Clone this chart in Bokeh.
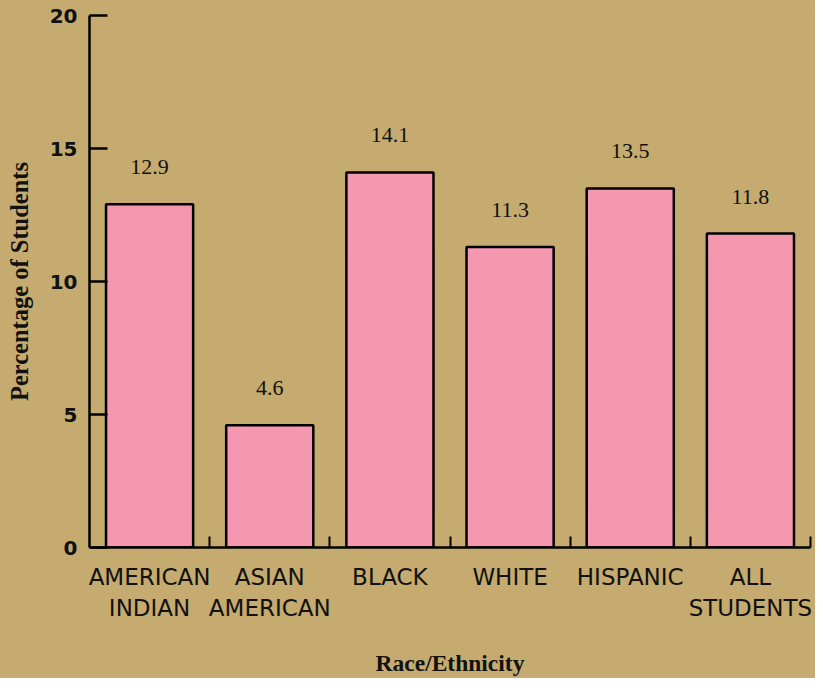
from bokeh.plotting import figure
from bokeh.models import ColumnDataSource, LabelSet, FixedTicker, Range1d
from bokeh.core.properties import value
from bokeh.embed import file_html
from bokeh.resources import INLINE

categories = ["AMERICAN\nINDIAN", "ASIAN\nAMERICAN", "BLACK", "WHITE", "HISPANIC", "ALL\nSTUDENTS"]
percentages = [12.9, 4.6, 14.1, 11.3, 13.5, 11.8]
value_labels = ["12.9", "4.6", "14.1", "11.3", "13.5", "11.8"]
y_ticks = [0, 5, 10, 15, 20]

BG = "#C5AB6F"
PINK = "#F497AF"
INK = "#111111"

positions = [i + 0.5 for i in range(len(categories))]
source = ColumnDataSource(dict(x=positions, top=percentages, label=value_labels))

p = figure(width=815, height=678, output_backend="svg", toolbar_location=None,
           x_range=Range1d(0, len(categories)), y_range=Range1d(0, 20),
           min_border_left=89, min_border_right=5, min_border_top=15, min_border_bottom=130)
p.background_fill_color = BG
p.border_fill_color = BG
p.outline_line_color = None
p.grid.visible = False
p.styles = {"background-color": BG}

p.vbar(x="x", top="top", width=0.725, bottom=0, source=source,
       fill_color=PINK, line_color="black", line_width=2.5)

labels = LabelSet(x="x", y="top", text="label", source=source, y_offset=30,
                  text_align="center", text_baseline="alphabetic",
                  text_font=value("Liberation Serif"), text_font_size="22px", text_color=INK)
p.add_layout(labels)

# x axis
xa = p.xaxis[0]
xa.ticker = FixedTicker(ticks=positions, minor_ticks=list(range(1, len(categories) + 1)))
xa.major_label_overrides = {pos: cat for pos, cat in zip(positions, categories)}
xa.major_tick_in = 0
xa.major_tick_out = 0
xa.minor_tick_in = 11
xa.minor_tick_out = 0
xa.minor_tick_line_width = 2
xa.minor_tick_line_color = "black"
xa.axis_line_width = 2.5
xa.axis_line_color = "black"
xa.major_label_standoff = 16
xa.major_label_text_font = "DejaVu Sans"
xa.major_label_text_font_size = "23px"
xa.major_label_text_color = INK
xa.axis_label = "Race/Ethnicity"
xa.axis_label_text_font = "Liberation Serif"
xa.axis_label_text_font_style = "bold"
xa.axis_label_text_font_size = "23.5px"
xa.axis_label_text_color = INK
xa.axis_label_standoff = 26

# y axis
ya = p.yaxis[0]
ya.ticker = FixedTicker(ticks=y_ticks)
ya.minor_tick_line_color = None
ya.major_tick_in = 18
ya.major_tick_out = 0
ya.major_tick_line_width = 2.5
ya.major_tick_line_color = "black"
ya.axis_line_width = 2.5
ya.axis_line_color = "black"
ya.major_label_standoff = 12
ya.major_label_text_font = "DejaVu Sans"
ya.major_label_text_font_style = "bold"
ya.major_label_text_font_size = "20px"
ya.major_label_text_color = INK
ya.axis_label = "Percentage of Students"
ya.axis_label_text_font = "Liberation Serif"
ya.axis_label_text_font_style = "bold"
ya.axis_label_text_font_size = "24.5px"
ya.axis_label_text_color = INK
ya.axis_label_standoff = 14

open("out.html", "w").write(file_html(p, INLINE))
